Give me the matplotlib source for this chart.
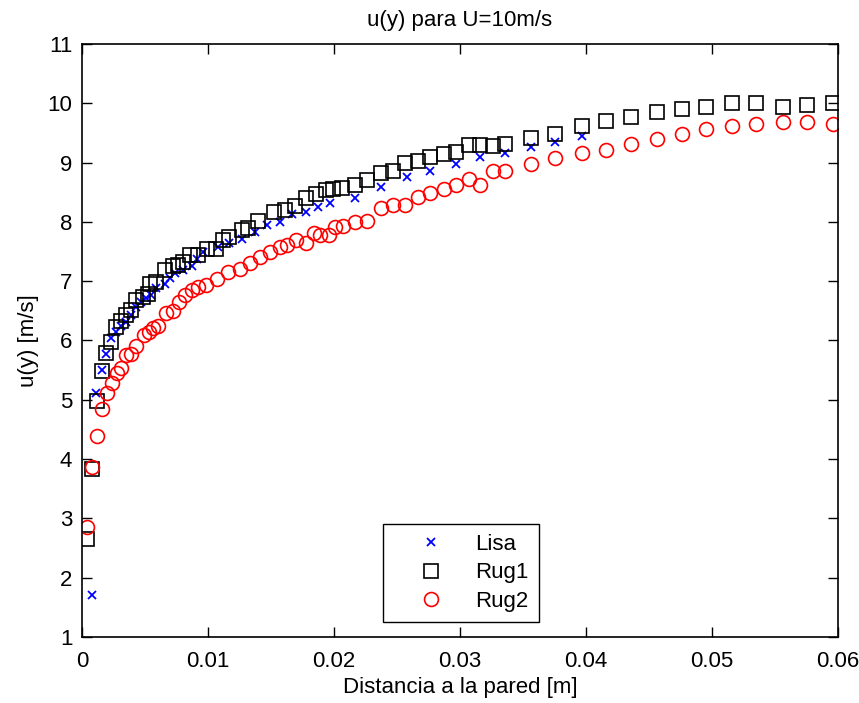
import matplotlib.pyplot as plt

plt.rcParams['font.family'] = ['Liberation Sans', 'DejaVu Sans']

# Lisa
x_lisa = [0.0008, 0.0011, 0.0016, 0.0019, 0.0023, 0.0027, 0.0031, 0.0035, 0.0039, 0.0043,
          0.0047, 0.0051, 0.0055, 0.0059, 0.0066, 0.0070, 0.0074, 0.0080, 0.0087, 0.0091,
          0.0096, 0.0108, 0.0117, 0.0127, 0.0137, 0.0147, 0.0157, 0.0167, 0.0178, 0.0187,
          0.0197, 0.0217, 0.0237, 0.0258, 0.0276, 0.0297, 0.0316, 0.0336, 0.0356, 0.0375,
          0.0397]
u_lisa = [1.70, 5.11, 5.50, 5.78, 6.04, 6.15, 6.24, 6.32, 6.43, 6.57,
          6.65, 6.71, 6.77, 6.88, 6.96, 7.05, 7.13, 7.19, 7.25, 7.38,
          7.50, 7.58, 7.65, 7.72, 7.83, 7.95, 7.99, 8.14, 8.16, 8.25,
          8.32, 8.40, 8.59, 8.75, 8.85, 8.98, 9.09, 9.16, 9.27, 9.35,
          9.45]

# Rug1
x_rug1 = [0.0004, 0.0008, 0.0012, 0.0016, 0.0019, 0.0023, 0.0027, 0.0031, 0.0035, 0.0039,
          0.0043, 0.0048, 0.0052, 0.0054, 0.0059, 0.0066, 0.0072, 0.0076, 0.0080, 0.0086,
          0.0092, 0.0099, 0.0106, 0.0112, 0.0117, 0.0127, 0.0132, 0.0140, 0.0152, 0.0161,
          0.0169, 0.0178, 0.0186, 0.0194, 0.0199, 0.0206, 0.0217, 0.0226, 0.0237, 0.0247,
          0.0256, 0.0267, 0.0276, 0.0287, 0.0297, 0.0307, 0.0316, 0.0326, 0.0336, 0.0356,
          0.0375, 0.0397, 0.0416, 0.0436, 0.0456, 0.0476, 0.0495, 0.0516, 0.0535, 0.0556,
          0.0575, 0.0596]
u_rug1 = [2.65, 3.83, 4.98, 5.49, 5.79, 5.98, 6.22, 6.33, 6.43, 6.51,
          6.68, 6.74, 6.78, 6.96, 6.99, 7.19, 7.25, 7.27, 7.33, 7.44,
          7.44, 7.55, 7.55, 7.69, 7.75, 7.86, 7.89, 8.02, 8.17, 8.20,
          8.26, 8.40, 8.47, 8.54, 8.56, 8.58, 8.62, 8.71, 8.82, 8.86,
          8.99, 9.02, 9.10, 9.15, 9.18, 9.30, 9.30, 9.28, 9.31, 9.42,
          9.48, 9.62, 9.71, 9.77, 9.86, 9.91, 9.94, 10.01, 10.01, 9.94,
          9.97, 10.00]

# Rug2
x_rug2 = [0.0004, 0.0008, 0.0012, 0.0016, 0.0020, 0.0024, 0.0028, 0.0031, 0.0035, 0.0039,
          0.0043, 0.0049, 0.0053, 0.0056, 0.0060, 0.0067, 0.0072, 0.0077, 0.0082, 0.0087,
          0.0092, 0.0098, 0.0107, 0.0116, 0.0125, 0.0133, 0.0141, 0.0149, 0.0157, 0.0163,
          0.0170, 0.0178, 0.0184, 0.0189, 0.0196, 0.0201, 0.0207, 0.0217, 0.0226, 0.0237,
          0.0247, 0.0256, 0.0267, 0.0276, 0.0287, 0.0297, 0.0307, 0.0316, 0.0326, 0.0336,
          0.0356, 0.0375, 0.0397, 0.0416, 0.0436, 0.0456, 0.0476, 0.0495, 0.0516, 0.0535,
          0.0556, 0.0575, 0.0596]
u_rug2 = [2.85, 3.87, 4.39, 4.84, 5.12, 5.28, 5.45, 5.53, 5.76, 5.78,
          5.90, 6.09, 6.15, 6.21, 6.24, 6.46, 6.49, 6.65, 6.77, 6.85,
          6.90, 6.93, 7.04, 7.16, 7.21, 7.30, 7.41, 7.50, 7.58, 7.61,
          7.69, 7.64, 7.81, 7.78, 7.78, 7.92, 7.93, 7.99, 8.02, 8.23,
          8.28, 8.29, 8.42, 8.48, 8.55, 8.62, 8.72, 8.62, 8.85, 8.85,
          8.98, 9.07, 9.16, 9.22, 9.31, 9.40, 9.48, 9.57, 9.62, 9.65,
          9.69, 9.69, 9.65]

x_ticks = [0, 0.01, 0.02, 0.03, 0.04, 0.05, 0.06]
x_ticklabels = ['0', '0.01', '0.02', '0.03', '0.04', '0.05', '0.06']
y_ticks = [1, 2, 3, 4, 5, 6, 7, 8, 9, 10, 11]

fig = plt.figure(figsize=(8.59, 7.03), dpi=100)
ax = fig.add_axes([0.0955, 0.0939, 0.8801, 0.8435])

ax.plot(x_lisa, u_lisa, 'x', color='#0000ff', ms=6, mew=1.3, label='Lisa')
ax.plot(x_rug1, u_rug1, 's', mfc='none', mec='black', ms=9.5, mew=1.2, label='Rug1')
ax.plot(x_rug2, u_rug2, 'o', mfc='none', mec='red', ms=10, mew=1.2, label='Rug2')

ax.set_xlim(0, 0.06)
ax.set_ylim(1, 11)
ax.set_xticks(x_ticks)
ax.set_xticklabels(x_ticklabels)
ax.set_yticks(y_ticks)
ax.tick_params(direction='in', top=True, right=True, labelsize=16, width=1, length=7)
ax.tick_params(axis='x', pad=10)
ax.tick_params(axis='y', pad=7)
for s in ax.spines.values():
    s.set_linewidth(1.2)

ax.set_title('u(y) para U=10m/s', fontsize=16, pad=13)
ax.set_xlabel('Distancia a la pared [m]', fontsize=16, labelpad=4)
ax.set_ylabel('u(y) [m/s]', fontsize=16, labelpad=6)

leg = ax.legend(loc='lower left', bbox_to_anchor=(0.398, 0.025), fontsize=16,
                frameon=True, fancybox=False, edgecolor='black', framealpha=1,
                handletextpad=0.3, borderpad=0.45, labelspacing=0.35, borderaxespad=0,
                handlelength=3.4)
leg.get_frame().set_linewidth(1.0)

plt.savefig('out.png', dpi=100)
